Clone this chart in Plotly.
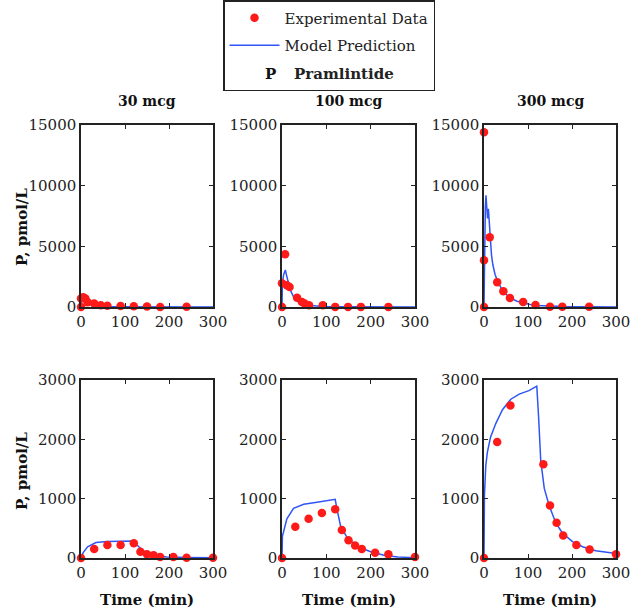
import plotly.graph_objects as go
from plotly.subplots import make_subplots

# experimental data, top row (0-15000 pmol/L)
t_exp_30_top = [0, 0, 5, 10, 15, 30, 45, 60, 90, 120, 150, 180, 240]
p_exp_30_top = [0, 700, 800, 700, 400, 280, 150, 100, 80, 60, 50, 0, 20]
t_exp_100_top = [0, 0, 7, 11, 17, 34, 45, 51, 61, 92, 120, 149, 178, 240]
p_exp_100_top = [0, 1950, 4350, 1800, 1650, 770, 410, 280, 140, 140, 10, 10, 10, 10]
t_exp_300_top = [0, 0, 0, 13, 30, 44, 59, 89, 117, 150, 178, 239]
p_exp_300_top = [0, 3850, 14400, 5750, 2050, 1300, 750, 420, 170, 20, 20, 20]

# model prediction, top row
t_mod_30_top = [0, 1, 4, 7, 10, 15, 20, 30, 45, 60, 90, 120, 180, 300]
p_mod_30_top = [0, 450, 800, 900, 700, 450, 300, 170, 80, 40, 15, 8, 4, 2]
t_mod_100_top = [0, 1, 4, 7.5, 13, 19, 26, 37, 56, 80, 100, 150, 200, 300]
p_mod_100_top = [0, 2050, 2700, 3050, 2200, 1380, 830, 410, 140, 50, 30, 15, 8, 4]
t_mod_300_top = [0, 1, 2, 3, 4.5, 6, 8, 10, 12, 14, 17, 20, 25, 30, 40, 50, 60, 75, 90, 105, 120, 150, 180, 240, 300]
p_mod_300_top = [0, 3000, 6900, 8200, 9200, 8500, 7300, 8100, 6800, 5600, 4300, 3500, 2700, 2200, 1500, 1050, 750, 480, 320, 200, 130, 70, 40, 20, 10]

# experimental data, bottom row (0-3000 pmol/L)
t_exp_bot = [0, 30, 60, 90, 120, 135, 150, 165, 180, 210, 240, 300]
p_exp_30_bot = [0, 150, 220, 220, 250, 105, 65, 45, 15, 15, 5, 5]
p_exp_100_bot = [0, 525, 660, 760, 820, 470, 300, 210, 150, 90, 65, 18]
p_exp_300_bot = [0, 1955, 2570, 3050, 3020, 1580, 885, 595, 380, 220, 145, 65]

# model prediction, bottom row
t_mod_30_bot = [0, 5, 15, 34, 60, 90, 120, 127, 142, 165, 195, 240, 300]
p_mod_30_bot = [0, 90, 190, 260, 280, 284, 285, 220, 120, 46, 17, 8, 5]
t_mod_100_bot = [0, 1, 4, 11, 26, 49, 79, 102, 120, 124, 132, 147, 170, 200, 230, 261, 300]
p_mod_100_bot = [0, 370, 456, 660, 836, 906, 940, 965, 990, 825, 545, 340, 193, 105, 47, 18, 6]
t_mod_300_bot = [0, 1, 4, 7.6, 15, 27, 42, 61, 80, 102, 116, 120, 124, 129, 137, 148, 163, 178, 201, 224, 254, 285, 300]
p_mod_300_bot = [0, 1060, 1550, 1780, 2040, 2270, 2500, 2676, 2763, 2820, 2880, 2896, 2390, 1636, 1173, 884, 595, 422, 277, 190, 121, 87, 75]

doses = ["30 mcg", "100 mcg", "300 mcg"]
x_ticks = [0, 100, 200, 300]
y_ticks_top = [0, 5000, 10000, 15000]
y_ticks_bot = [0, 1000, 2000, 3000]

panels = [
    (1, 1, t_exp_30_top, p_exp_30_top, t_mod_30_top, p_mod_30_top),
    (1, 2, t_exp_100_top, p_exp_100_top, t_mod_100_top, p_mod_100_top),
    (1, 3, t_exp_300_top, p_exp_300_top, t_mod_300_top, p_mod_300_top),
    (2, 1, t_exp_bot, p_exp_30_bot, t_mod_30_bot, p_mod_30_bot),
    (2, 2, t_exp_bot, p_exp_100_bot, t_mod_100_bot, p_mod_100_bot),
    (2, 3, t_exp_bot, p_exp_300_bot, t_mod_300_bot, p_mod_300_bot),
]

W, H = 631, 616
FONT = "DejaVu Serif"
RED = "#ff1a1a"
BLUE = "#2f55f5"


def px(x):
    return x / W


def py(y):
    return 1 - y / H


fig = make_subplots(rows=2, cols=3)

for i, (r, c, te, pe, tm, pm) in enumerate(panels):
    fig.add_trace(go.Scatter(x=tm, y=pm, mode="lines", line=dict(color=BLUE, width=1.5),
                             name="Model Prediction", legendgroup="model", showlegend=(i == 0),
                             legendrank=2),
                  row=r, col=c)
    fig.add_trace(go.Scatter(x=te, y=pe, mode="markers", marker=dict(color=RED, size=8.5),
                             cliponaxis=False, name="Experimental Data", legendgroup="exp",
                             showlegend=(i == 0), legendrank=1),
                  row=r, col=c)

# dummy entry for the "P  Pramlintide" legend line
fig.add_trace(go.Scatter(x=[None], y=[None], mode="markers", marker=dict(color="rgba(0,0,0,0)"),
                         name="\u00a0\u00a0<b>Pramlintide</b>", legendgroup="pram", showlegend=True,
                         legendrank=3),
              row=1, col=1)

# pixel layout of the panels
col_px = [(81, 213), (282, 415), (484, 616)]
row_px = [(125, 307), (380, 558)]
ylabel_px = [227, 471]

for r in range(2):
    for c in range(3):
        x0, x1 = col_px[c]
        y0, y1 = row_px[r]
        fig.update_xaxes(domain=[px(x0), px(x1)], range=[0, 300], tickvals=x_ticks,
                         ticktext=[str(v) for v in x_ticks], row=r + 1, col=c + 1)
        yt = y_ticks_top if r == 0 else y_ticks_bot
        fig.update_yaxes(domain=[py(y1), py(y0)], range=[0, yt[-1]], tickvals=yt,
                         ticktext=[str(v) for v in yt], row=r + 1, col=c + 1)

axis_style = dict(showgrid=False, zeroline=False, showline=True, linecolor="#222222", linewidth=1.5,
                  mirror="ticks", ticks="inside", ticklen=4, tickcolor="#222222",
                  ticklabeloverflow="allow",
                  tickfont=dict(family=FONT, size=15, color="#222222"))
fig.update_xaxes(**axis_style)
fig.update_yaxes(**axis_style)


def label(text, x, y, size=15, angle=0):
    return dict(text=text, x=px(x), y=py(y), xref="paper", yref="paper", xanchor="center",
                yanchor="middle", showarrow=False, textangle=angle,
                font=dict(family=FONT, size=size, color="#111111"))


annotations = []
for c, d in enumerate(doses):
    x0, x1 = col_px[c]
    annotations.append(label(f"<b>{d}</b>", (x0 + x1) / 2, 101, size=14))
    annotations.append(label("<b>Time (min)</b>", (x0 + x1) / 2, 600))
for r in range(2):
    annotations.append(label("<b>P, pmol/L</b>", 22, ylabel_px[r], angle=-90))
annotations.append(label("<b>P</b>", 270, 74))

fig.update_layout(
    width=W, height=H,
    margin=dict(l=0, r=0, t=0, b=0, autoexpand=False),
    paper_bgcolor="white", plot_bgcolor="white",
    annotations=annotations,
    legend=dict(x=px(329), y=1.0, xanchor="center", yanchor="top", bordercolor="#222222", borderwidth=1.5,
                bgcolor="white", itemwidth=50, traceorder="grouped", tracegroupgap=5,
                font=dict(family=FONT, size=15, color="#222222")),
)

# drop the default 8px page margin so the figure sits at the window's corner
fig.write_html("out.html", config={"displayModeBar": False},
               post_script="document.body.style.margin='0';"
                           "document.documentElement.style.overflow='hidden';")
